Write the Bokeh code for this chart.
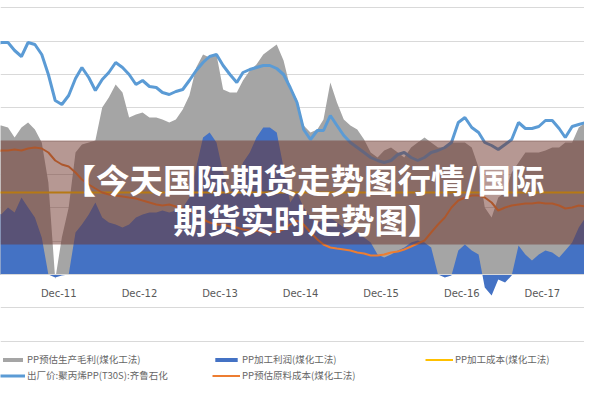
from datetime import datetime
import pandas as pd
from bokeh.plotting import figure
from bokeh.models import (Range1d, FixedTicker, DatetimeTickFormatter, Legend,
                          LegendItem, BoxAnnotation, Label)
from bokeh.embed import file_html
from bokeh.resources import INLINE

# ---------------- data (monthly, mid-month, Jan-2011 .. Jul-2018) ----------------
months = [datetime(2011 + k // 12, k % 12 + 1, 15) for k in range(91)]

# PP预估生产毛利(煤化工法)  (left axis, yuan/t)
gross_profit = [4470, 4470, 4470, 4410, 4110, 4410, 4560, 4350, 3960, 2760,
                -150, 1110, 2010, 3660, 3900, 3960, 4020, 5010, 5310, 5700,
                5460, 4710, 4800, 4860, 4710, 4710, 4650, 4560, 4650, 4950,
                5370, 6210, 6600, 6510, 6600, 5550, 5460, 5460, 5820, 6120,
                6300, 6600, 6750, 6900, 6420, 5610, 5250, 4470, 4260, 4350,
                4650, 5760, 5160, 4650, 4470, 4350, 4050, 3660, 3510, 3720,
                3810, 3660, 3510, 3810, 3960, 4110, 3960, 3810, 3810, 3960,
                3960, 3960, 3810, 3210, 2010, 1710, 2310, 2460, 3060, 3360,
                3660, 3660, 3660, 3720, 3810, 3810, 3960, 3960, 4410, 4560,
                4620]

# PP加工利润(煤化工法)  (left axis, yuan/t)
proc_profit = [2010, 1920, 1800, 2010, 1860, 2310, 2010, 1710, 1110, 0,
               -90, -30, 0, 1260, 1500, 1800, 2160, 1710, 1560, 1500,
               1410, 1500, 1710, 1800, 1860, 1860, 1920, 1860, 1920, 2010,
               2310, 3210, 4110, 4260, 3960, 3060, 2460, 2760, 3360, 3660,
               4110, 4410, 4410, 4260, 3210, 2160, 2460, 2010, 1710, 1560,
               1620, 1710, 1560, 1410, 1320, 1260, 1110, 960, 600, 510,
               600, 720, 810, 960, 1020, 960, 810, 0, -90, -30,
               720, 900, 720, 600, -390, -630, -150, -240, -30, 870,
               600, 420, 600, 720, 660, 510, 720, 960, 1410, 1710,
               2010]

# 出厂价:聚丙烯PP(T30S):齐鲁石化  (right axis, yuan/t)
price = [13200, 13800, 13920, 13920, 13440, 13080, 13920, 13800, 13200, 12000,
         10440, 10200, 10740, 11760, 12420, 11820, 11040, 11700, 12120, 12720,
         12420, 12000, 11400, 11640, 11280, 11220, 10920, 10800, 10980, 11100,
         11640, 12240, 12720, 13080, 13200, 12540, 12000, 11520, 12120, 12300,
         12420, 12540, 12540, 12360, 12000, 11220, 10320, 8700, 8100, 8640,
         8640, 9540, 8940, 8340, 7920, 7620, 7320, 7020, 6840, 6720,
         6840, 7200, 7320, 7020, 6840, 7020, 7320, 7440, 7620, 7920,
         9120, 9420, 8820, 8520, 7920, 7740, 7500, 7800, 8100, 9120,
         8760, 8760, 8880, 9240, 9240, 8760, 8220, 8880, 9000, 9120,
         9720]

# PP预估原料成本(煤化工法)  (right axis, yuan/t)
raw_cost = [7200, 7320, 7440, 7440, 7500, 7440, 7560, 7620, 7560, 7320,
            6840, 6600, 6480, 6120, 5700, 5400, 5160, 4920, 4800, 4740,
            4680, 4620, 4560, 4440, 4320, 4200, 4140, 4200, 4080, 3960,
            3840, 3600, 3300, 3120, 3000, 3000, 2880, 2820, 2700, 2640,
            2640, 2520, 2520, 2580, 2700, 3000, 3240, 3000, 2520, 2100,
            1800, 1620, 1560, 1500, 1440, 1320, 1260, 1140, 1140, 1200,
            1320, 1380, 1500, 1680, 1860, 2040, 2520, 3000, 3420, 4020,
            4440, 4620, 4740, 4740, 4620, 4320, 3840, 4020, 4140, 4200,
            4260, 4260, 4320, 4260, 4260, 4140, 3960, 4020, 4140, 4080,
            3900]

# PP加工成本(煤化工法)  (right axis, constant)
proc_cost = [4920] * len(months)

tick_dates = [datetime(y, 12, 1) for y in range(2010, 2018)]
grid_values = [-2000, -1000, 0, 1000, 2000, 3000, 4000, 5000, 6000, 7000, 8000]

legend_labels = ["PP预估生产毛利(煤化工法)", "PP加工利润(煤化工法)", "PP加工成本(煤化工法)",
                 "出厂价:聚丙烯PP(T30S):齐鲁石化", "PP预估原料成本(煤化工法)"]
title_lines = ["【今天国际期货走势图行情/国际", "期货实时走势图】"]

# ---------------- figure ----------------
p = figure(width=584, height=384, x_axis_type="datetime", output_backend="svg",
           toolbar_location=None, title=None, min_border=0,
           x_range=Range1d(datetime(2011, 3, 12), datetime(2018, 6, 10)),
           y_range=Range1d(-3300, 8220))
p.extra_y_ranges = {"price": Range1d(-6600, 16440)}
p.outline_line_color = None
p.background_fill_color = "white"
p.border_fill_color = "white"

p.yaxis.visible = False
p.xgrid.visible = False
p.ygrid.ticker = FixedTicker(ticks=grid_values)
p.ygrid.grid_line_color = "#d9d9d9"
p.ygrid.grid_line_width = 1

tick_ms = [pd.Timestamp(d).value // 10**6 for d in tick_dates]
xa = p.xaxis[0]
xa.fixed_location = 0
xa.ticker = FixedTicker(ticks=tick_ms, minor_ticks=[])
xa.formatter = DatetimeTickFormatter(years="%b-%y", months="%b-%y", days="%b-%y",
                                     hours="%b-%y", minutes="%b-%y", seconds="%b-%y",
                                     milliseconds="%b-%y", microseconds="%b-%y")
xa.axis_line_color = "#d9d9d9"
xa.major_tick_line_color = None
xa.minor_tick_line_color = None
xa.major_label_standoff = 7
xa.major_label_text_font = "DejaVu Sans"
xa.major_label_text_font_size = "10px"
xa.major_label_text_color = "#595959"

r_gray = p.varea(x=months, y1=0, y2=gross_profit, fill_color="#a5a5a5")
r_blue = p.varea(x=months, y1=0, y2=proc_profit, fill_color="#4472c4")
r_yel = p.line(months, proc_cost, line_color="#ffc000", line_width=2, y_range_name="price")
r_price = p.line(months, price, line_color="#5b9bd5", line_width=3, y_range_name="price")
r_raw = p.line(months, raw_cost, line_color="#ed7d31", line_width=2, y_range_name="price")

# overlay title band
band = BoxAnnotation(bottom=900, top=4020, fill_color=(110, 50, 40), fill_alpha=0.5,
                     line_color=None)
p.add_layout(band)

for txt, lx, ly in [(title_lines[0], 62, 206), (title_lines[1], 173, 166)]:
    p.add_layout(Label(x=lx, y=ly, x_units="screen", y_units="screen", text=txt,
                       text_font="Noto Sans CJK SC", text_font_style="bold",
                       text_font_size="33.5px", text_color="white",
                       text_baseline="middle", text_align="left"))

def make_legend(items, loc, gw):
    lg = Legend(items=items, location=loc, orientation="vertical",
                glyph_width=gw, glyph_height=5, label_height=14, spacing=2,
                padding=0, margin=0, border_line_color=None,
                background_fill_alpha=0, label_standoff=2,
                label_text_font="Noto Sans CJK SC", label_text_font_size="9.5px",
                label_text_color="#666666")
    p.add_layout(lg)

make_legend([LegendItem(label=legend_labels[0], renderers=[r_gray]),
             LegendItem(label=legend_labels[3], renderers=[r_price])], (0, 2), 25)
make_legend([LegendItem(label=legend_labels[1], renderers=[r_blue]),
             LegendItem(label=legend_labels[4], renderers=[r_raw])], (212, 2), 28)
make_legend([LegendItem(label=legend_labels[2], renderers=[r_yel])], (425, 18), 28)

open("out.html", "w").write(file_html(p, INLINE))
